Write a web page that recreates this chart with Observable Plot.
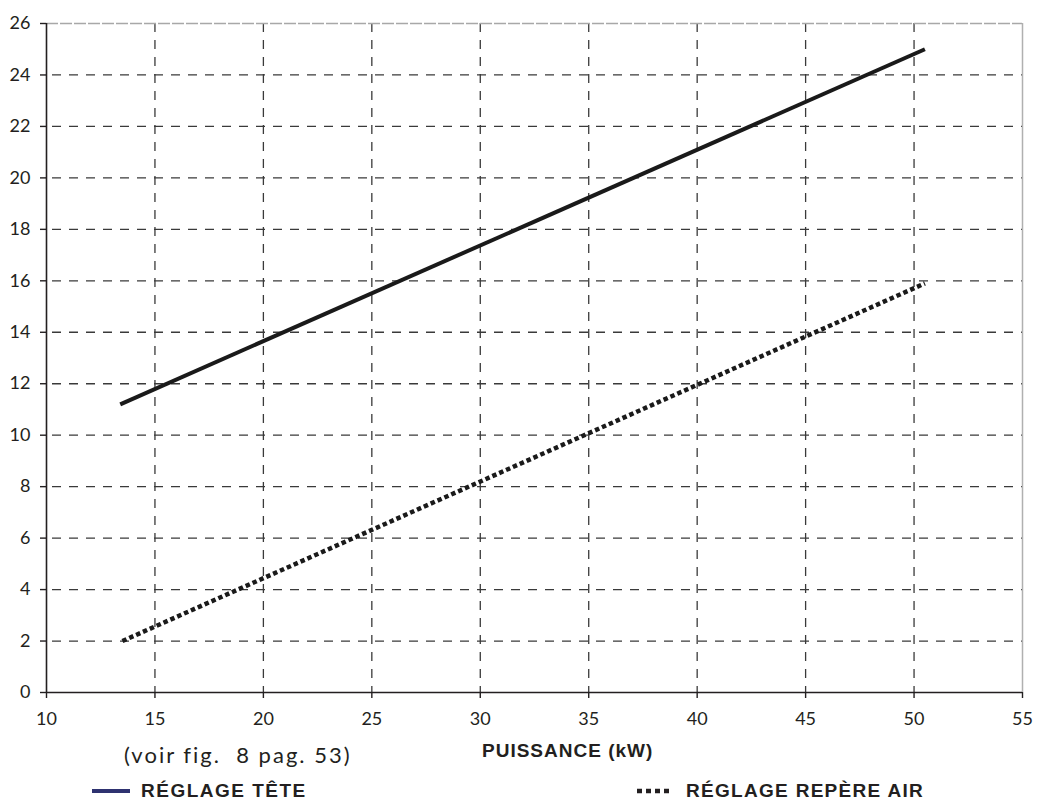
<!DOCTYPE html>
<html>
<head>
<meta charset="utf-8">
<script src="https://cdn.jsdelivr.net/npm/d3@7"></script>
<script src="https://cdn.jsdelivr.net/npm/@observablehq/plot@0.6"></script>
<style>
  html, body { margin: 0; padding: 0; background: #fff; }
  #wrap { position: relative; width: 1043px; height: 801px; overflow: hidden; }
  #chart { position: absolute; left: 0; top: 0; }
  #notes { position: absolute; left: 0; top: 730px; }
</style>
</head>
<body>
<div id="wrap">
  <div id="chart"></div>
  <svg id="notes" width="1043" height="71" viewBox="0 730 1043 71">
    <text x="124" y="763" font-family="Lato, 'Noto Sans', sans-serif" font-size="22" letter-spacing="2" fill="#231f20" xml:space="preserve">(voir fig.  8 pag. 53)</text>
    <text x="482" y="757" font-family="'Liberation Sans', Arial, sans-serif" font-weight="bold" font-size="19" letter-spacing="1" fill="#231f20">PUISSANCE (kW)</text>
    <line x1="92" y1="791" x2="130" y2="791" stroke="#2e3270" stroke-width="4"/>
    <text x="141" y="797" font-family="'Liberation Sans', Arial, sans-serif" font-weight="bold" font-size="19" letter-spacing="1.5" fill="#231f20">RÉGLAGE TÊTE</text>
    <line x1="637" y1="791" x2="671" y2="791" stroke="#231f20" stroke-width="4.5" stroke-dasharray="5,4"/>
    <text x="686" y="797" font-family="'Liberation Sans', Arial, sans-serif" font-weight="bold" font-size="19" letter-spacing="1.3" fill="#231f20">RÉGLAGE REPÈRE AIR</text>
  </svg>
</div>
<script>
// Data
const xTicks = [10, 15, 20, 25, 30, 35, 40, 45, 50, 55];
const yTicks = [0, 2, 4, 6, 8, 10, 12, 14, 16, 18, 20, 22, 24, 26];
const teteX = [13.4, 50.5];
const teteY = [11.2, 25.0];
const airX = [13.5, 50.5];
const airY = [2.0, 15.9];

const tete = teteX.map((x, i) => ({x, y: teteY[i]}));
const air = airX.map((x, i) => ({x, y: airY[i]}));

const gridStroke = "#3a3a3a";
const chart = Plot.plot({
  width: 1043,
  height: 735,
  marginTop: 23,
  marginBottom: 43,
  marginLeft: 46,
  marginRight: 21,
  style: { fontFamily: "Lato, 'Noto Sans', sans-serif", fontSize: "18px", color: "#231f20", background: "#fff" },
  x: { domain: [10, 55], ticks: xTicks },
  y: { domain: [0, 26], ticks: yTicks },
  marks: [
    Plot.ruleX(xTicks.filter(d => d !== 10 && d !== 55), { stroke: gridStroke, strokeWidth: 1.3, strokeDasharray: "9,8" }),
    Plot.ruleY(yTicks.filter(d => d !== 0 && d !== 26), { stroke: gridStroke, strokeWidth: 1.3, strokeDasharray: "9,8", strokeDashoffset: -6 }),
    Plot.ruleY([26], { stroke: "#a8a8a8", strokeWidth: 1.5, strokeDasharray: "12,2" }),
    Plot.ruleX([55], { stroke: "#b0b0b0", strokeWidth: 1.5 }),
    Plot.ruleX([10], { stroke: "#231f20", strokeWidth: 1.6 }),
    Plot.ruleY([0], { stroke: "#231f20", strokeWidth: 1.6 }),
    Plot.axisX({ ticks: xTicks, tickSize: 6, tickPadding: 14, label: null, stroke: "#231f20", strokeWidth: 1.4, fill: "#231f20" }),
    Plot.axisY({ ticks: yTicks, tickSize: 6, tickPadding: 10, label: null, stroke: "#231f20", strokeWidth: 1.4, fill: "#231f20" }),
    Plot.line(tete, { x: "x", y: "y", stroke: "#1a1a1a", strokeWidth: 4, strokeLinecap: "butt" }),
    Plot.line(air, { x: "x", y: "y", stroke: "#1a1a1a", strokeWidth: 4.5, strokeDasharray: "4.5,3", strokeLinecap: "butt" })
  ]
});
document.getElementById("chart").appendChild(chart);
</script>
</body>
</html>
